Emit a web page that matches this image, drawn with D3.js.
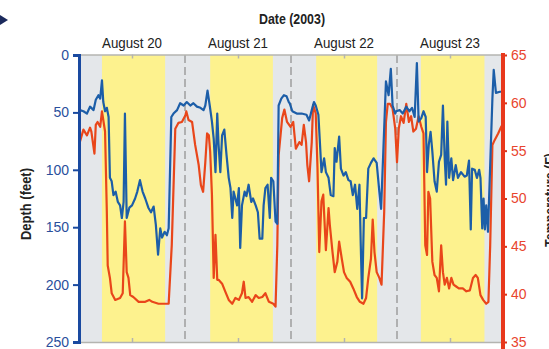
<!DOCTYPE html>
<html><head><meta charset="utf-8">
<script src="https://cdn.jsdelivr.net/npm/d3@7"></script>
<style>
html,body{margin:0;padding:0;background:#fff;}
svg{display:block;}
</style></head>
<body>
<svg id="chart" width="549" height="349"></svg>
<script>
// ---- data ----
const dayLabels = ["August 20", "August 21", "August 22", "August 23"];
const noonHours = [12, 36, 60, 84];
const midnightHours = [24, 48, 72];
const sunriseHours = [5.2, 29.7, 53.7, 77.4];
const sunsetHours = [19.5, 43.9, 67.5, 91.8];
const depthTicks = [0, 50, 100, 150, 200, 250];
const tempTicks = [35, 40, 45, 50, 55, 60, 65];

// [hours since Aug 20 00:00, depth in feet]
const depthSeries = [
[0.2,48],[1.0,49],[1.8,51],[2.5,45],[3.3,48],[3.8,39],[4.4,35],[4.8,38],[5.2,22],[5.5,41],[5.9,49],[6.3,46],[6.7,54],[7.0,107],[7.4,110],[7.8,122],[8.3,119],[8.8,128],[9.3,131],[9.7,142],[10.1,128],[10.4,51],[10.8,142],[11.4,133],[12.0,131],[12.7,125],[13.2,119],[13.8,109],[14.4,119],[15.0,125],[15.7,133],[16.3,137],[16.9,132],[17.4,148],[17.9,174],[18.4,151],[18.8,159],[19.4,154],[19.9,157],[20.3,151],[20.9,54],[21.4,51],[22.2,48],[22.9,42],[23.7,44],
[24.4,41],[25.2,44],[25.9,42],[26.7,45],[27.5,46],[28.2,48],[28.6,44],[29.1,31],[29.6,44],[30.1,58],[30.5,73],[30.9,102],[31.3,51],[31.6,78],[32.0,102],[32.4,70],[32.9,65],[33.4,87],[33.9,107],[34.3,116],[34.7,142],[35.0,119],[35.4,125],[35.8,131],[36.2,116],[36.5,168],[36.9,131],[37.5,119],[37.9,123],[38.4,113],[39.0,128],[39.4,125],[40.0,131],[40.5,137],[40.9,160],[41.5,160],[41.8,131],[42.2,116],[42.7,113],[43.2,142],[43.5,107],[44.0,110],[44.5,145],[44.9,147],[45.2,44],[45.8,38],[46.4,35],[47.0,36],[47.5,41],
[47.7,42],[48.3,49],[49.3,51],[50.4,51],[51.5,52],[52.1,57],[52.7,48],[53.2,41],[53.6,44],[54.2,52],[54.5,73],[54.9,102],[55.5,90],[55.9,102],[56.5,107],[57.0,122],[57.6,123],[57.9,81],[58.3,93],[58.9,71],[59.3,99],[59.9,105],[60.4,102],[61.0,109],[61.5,110],[62.0,122],[62.5,113],[63.0,134],[63.5,113],[63.8,166],[64.1,212],[64.5,142],[65.0,142],[65.5,99],[66.1,94],[66.7,90],[67.4,94],[68.0,119],[68.4,134],[68.9,84],[69.5,23],[70.1,35],[70.6,12],[71.0,44],[71.6,51],
[71.8,49],[72.6,48],[73.3,51],[74.1,45],[74.8,49],[75.4,46],[76.0,54],[76.5,7],[76.9,58],[77.5,55],[78.0,49],[78.5,54],[78.8,102],[79.2,78],[79.6,67],[80.0,84],[80.5,110],[81.0,119],[81.5,93],[82.0,87],[82.4,44],[82.8,90],[83.1,113],[83.4,58],[83.8,107],[84.3,90],[84.7,109],[85.3,96],[85.8,107],[86.5,102],[87.3,106],[87.8,105],[88.3,92],[88.7,152],[89.0,99],[89.6,100],[90.1,107],[90.6,100],[90.9,107],[91.3,151],[91.6,125],[91.9,152],[92.2,131],[92.6,154],[93.1,96],[93.6,38],[93.9,13],[94.4,33],[95.3,32],[96,32]
];

// [hours since Aug 20 00:00, temperature in F]
const tempSeries = [
[0.2,55.9],[1.0,57.2],[1.8,56.6],[2.5,57.4],[2.8,57.0],[3.5,54.7],[3.8,57.7],[4.2,58.0],[4.8,57.5],[5.2,59.1],[5.9,57.0],[6.3,48.6],[6.5,43.0],[7.0,41.7],[7.4,40.1],[8.2,39.4],[9.3,39.6],[9.9,40.1],[10.4,47.6],[10.8,42.3],[11.2,41.7],[11.6,39.9],[12.3,39.7],[13.5,39.2],[15.0,39.2],[15.9,39.4],[16.6,39.2],[18.0,39.0],[20.3,39.0],[21.0,45.1],[21.8,57.3],[22.5,57.9],[23.3,58.0],[24.1,58.7],
[24.3,59.1],[24.8,58.2],[25.6,58.0],[26.3,55.6],[27.1,53.5],[27.6,51.4],[28.1,50.7],[28.6,53.8],[29.0,56.8],[29.4,56.6],[29.7,54.9],[30.1,50.4],[30.5,41.7],[30.9,46.2],[31.3,41.5],[31.6,41.5],[32.4,41.1],[33.1,40.3],[33.9,39.4],[34.7,39.0],[35.4,39.6],[36.2,39.4],[36.9,40.1],[37.3,41.3],[37.7,39.6],[38.4,39.7],[39.2,39.2],[40.0,39.9],[40.7,39.6],[41.5,39.7],[42.2,40.1],[43.0,39.2],[44.0,39.0],[44.5,38.7],[44.9,45.1],[45.2,54.5],[46.0,58.4],[46.5,59.3],[47.1,58.0],[47.9,57.5],
[48.5,58.0],[49.1,55.2],[49.9,55.9],[50.4,55.6],[50.9,57.7],[51.4,55.9],[51.7,53.5],[52.1,51.8],[52.7,55.9],[53.0,59.8],[53.6,58.9],[54.0,53.2],[54.4,44.4],[54.9,49.7],[55.3,50.4],[55.9,44.6],[56.5,49.0],[56.8,47.2],[57.4,44.4],[57.9,42.3],[58.5,43.4],[58.9,45.5],[59.5,43.7],[60.0,42.3],[60.6,41.7],[61.4,41.3],[62.1,40.6],[62.9,39.7],[63.6,39.2],[64.4,39.0],[65.0,39.6],[65.5,41.7],[66.1,43.7],[66.5,47.8],[66.9,44.4],[67.4,42.3],[68.0,41.7],[68.5,41.0],[69.1,48.6],[69.5,58.0],[69.9,59.9],[70.4,59.9],[71.0,59.4],[71.6,57.3],
[72.0,53.8],[72.4,57.3],[72.9,58.6],[73.5,57.9],[74.1,59.9],[74.7,58.0],[75.2,58.6],[75.7,57.0],[76.3,57.3],[76.9,58.6],[77.5,57.5],[78.0,56.8],[78.4,45.1],[78.8,44.1],[79.1,50.7],[79.5,50.0],[80.0,43.4],[80.5,42.0],[81.0,41.7],[81.5,40.3],[82.0,45.1],[82.4,42.3],[82.8,41.0],[83.3,41.7],[83.8,40.6],[84.3,41.7],[84.8,41.0],[85.4,40.8],[86.0,40.6],[86.9,40.6],[87.7,40.3],[88.5,40.4],[89.2,41.7],[89.8,42.0],[90.3,41.7],[90.9,39.9],[91.5,39.4],[92.2,39.0],[92.7,39.2],[93.1,45.1],[93.6,55.6],[94.1,56.1],[94.9,56.8],[95.6,57.5],[96,57.8]
];

// ---- drawing ----
const svg = d3.select("#chart");
const pLeft = 79, pRight = 503, pTop = 55, pBottom = 342;
const x = d3.scaleLinear().domain([0, 96]).range([pLeft, pRight]);
const yD = d3.scaleLinear().domain([0, 250]).range([pTop, pBottom]);
const yT = d3.scaleLinear().domain([35, 65]).range([pBottom, pTop]);

const sans = "'Liberation Sans',Arial,sans-serif";

// night background
svg.append("rect").attr("x", x(0)).attr("y", pTop).attr("width", x(96) - x(0)).attr("height", pBottom - pTop)
  .attr("fill", "#e4e7ea");
// daylight bands
svg.selectAll("rect.day").data(d3.range(sunriseHours.length)).join("rect").attr("class", "day")
  .attr("x", i => x(sunriseHours[i])).attr("y", pTop)
  .attr("width", i => x(sunsetHours[i]) - x(sunriseHours[i])).attr("height", pBottom - pTop)
  .attr("fill", "#fdf28e");

// midnight dashed lines
svg.selectAll("line.mid").data(midnightHours).join("line").attr("class", "mid")
  .attr("x1", d => x(d)).attr("x2", d => x(d)).attr("y1", pTop).attr("y2", pBottom)
  .attr("stroke", "#999").attr("stroke-width", 1.4).attr("stroke-dasharray", "8,4");

// top & bottom frame with noon ticks
const topAxis = d3.axisTop(x).tickValues(noonHours).tickSize(-4).tickSizeOuter(0).tickFormat("");
const ga = svg.append("g").attr("transform", `translate(0,${pTop - 0.5})`).call(topAxis);
ga.selectAll("path,line").attr("stroke", "#b4b4b0").attr("stroke-width", 1.5);
const botAxis = d3.axisBottom(x).tickValues(noonHours).tickSize(-4).tickSizeOuter(0).tickFormat("");
const gb = svg.append("g").attr("transform", `translate(0,${pBottom})`).call(botAxis);
gb.selectAll("path,line").attr("stroke", "#b4b4b0").attr("stroke-width", 1.5);

// day labels
svg.selectAll("text.day").data(noonHours).join("text").attr("class", "day")
  .attr("x", d => x(d)).attr("y", 48).attr("text-anchor", "middle")
  .attr("font-family", sans).attr("font-size", 14).attr("fill", "#222")
  .attr("textLength", 60).attr("lengthAdjust", "spacingAndGlyphs")
  .text((d, i) => dayLabels[i]);

// title
svg.append("text").attr("x", 292).attr("y", 24).attr("text-anchor", "middle")
  .attr("font-family", sans).attr("font-weight", "bold").attr("font-size", 14).attr("fill", "#222")
  .attr("textLength", 66).attr("lengthAdjust", "spacingAndGlyphs")
  .text("Date (2003)");

// series lines
const lineT = d3.line().x(d => x(d[0])).y(d => yT(d[1]));
const lineD = d3.line().x(d => x(d[0])).y(d => yD(d[1]));
svg.append("path").datum(tempSeries).attr("d", lineT).attr("fill", "none")
  .attr("stroke", "#e9461a").attr("stroke-width", 2.2).attr("stroke-linejoin", "round");
svg.append("path").datum(depthSeries).attr("d", lineD).attr("fill", "none")
  .attr("stroke", "#1c5ea8").attr("stroke-width", 2.2).attr("stroke-linejoin", "round");

// left axis (depth)
const axL = d3.axisLeft(yD).tickValues(depthTicks).tickSize(6).tickPadding(4);
const gl = svg.append("g").attr("transform", `translate(${pLeft},0)`).call(axL);
gl.select(".domain").attr("stroke", "#1a4aa0").attr("stroke-width", 3);
gl.selectAll(".tick line").attr("stroke", "#1a4aa0").attr("stroke-width", 2);
gl.selectAll(".tick text").attr("font-family", sans).attr("font-size", 14).attr("fill", "#2a4f9c");

// right axis (temperature)
const axR = d3.axisRight(yT).tickValues(tempTicks).tickSize(4).tickPadding(4).tickSizeOuter(0);
const gr = svg.append("g").attr("transform", `translate(${pRight},0)`).call(axR);
gr.select(".domain").remove();
gr.append("line").attr("x1", 0).attr("x2", 0).attr("y1", pTop - 2).attr("y2", 349)
  .attr("stroke", "#e8381c").attr("stroke-width", 4);
gr.selectAll(".tick line").attr("stroke", "#d8341c").attr("stroke-width", 2);
gr.selectAll(".tick text").attr("font-family", sans).attr("font-size", 14).attr("fill", "#e8452e");

// axis titles
svg.append("text").attr("transform", "translate(31,204) rotate(-90)").attr("text-anchor", "middle")
  .attr("font-family", sans).attr("font-weight", "bold").attr("font-size", 14).attr("fill", "#222")
  .attr("textLength", 72).attr("lengthAdjust", "spacingAndGlyphs")
  .text("Depth (feet)");
svg.append("text").attr("transform", "translate(555,200) rotate(-90)").attr("text-anchor", "middle")
  .attr("font-family", sans).attr("font-weight", "bold").attr("font-size", 14).attr("fill", "#222")
  .attr("textLength", 94).attr("lengthAdjust", "spacingAndGlyphs")
  .text("Temperature (F)");

// bullet arrow
svg.append("path").attr("d", "M0,15 L8,20 L0,25 Z").attr("fill", "#1b2a5c");
</script>
</body></html>
